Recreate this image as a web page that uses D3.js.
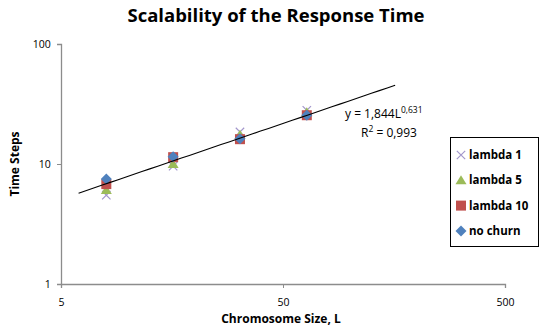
<!DOCTYPE html>
<html><head><meta charset="utf-8">
<script src="https://cdn.jsdelivr.net/npm/d3@7"></script>
<style>body{margin:0;background:#fff}svg{display:block}text{font-family:"Open Sans","Liberation Sans",sans-serif}</style>
</head><body><svg id="c" width="540" height="329"></svg>
<script>
const sizes = [8, 16, 32, 64];
const lambda1 = [5.5, 9.6, 18.5, 28];
const lambda5 = [6.07, 10.0, 17.5, 27];
const lambda10 = [6.8, 11.4, 16.1, 25.5];
const noChurn = [7.5, 11.5, 16.2, 25.5];
const seriesNames = ["lambda 1", "lambda 5", "lambda 10", "no churn"];
const xTicks = [5, 50, 500];
const yTicks = [1, 10, 100];
const trendA = 1.844, trendB = 0.631, trendRange = [6, 160];

const svg = d3.select("#c");
const x = d3.scaleLog().domain([5, 500]).range([61, 505]);
const y = d3.scaleLog().domain([1, 100]).range([284, 44]);
const axisCol = "#8c8c8c";

svg.append("text").attr("x", 276).attr("y", 22).attr("text-anchor", "middle")
  .attr("font-size", 18.5).attr("font-weight", "bold").attr("fill", "#000").text("Scalability of the Response Time");

const xa = svg.append("g").attr("transform", "translate(0,284)")
  .call(d3.axisBottom(x).tickValues(xTicks).tickFormat(d3.format("d")).tickSize(4));
const ya = svg.append("g").attr("transform", "translate(61,0)")
  .call(d3.axisLeft(y).tickValues(yTicks).tickFormat(d3.format("d")).tickSize(4));
[xa, ya].forEach(g => {
  g.select(".domain").attr("stroke", axisCol).attr("stroke-width", 1.3);
  g.selectAll(".tick line").attr("stroke", axisCol);
  g.selectAll(".tick text").attr("font-size", 10.5).attr("fill", "#000")
   .attr("font-family", "'Liberation Sans', sans-serif");
});
xa.selectAll(".tick text").attr("dy", "1.45em");
ya.selectAll(".tick text").attr("dx", "-0.3em");

svg.append("text").attr("x", 281).attr("y", 323).attr("text-anchor", "middle")
  .attr("font-size", 12).attr("font-weight", "bold").text("Chromosome Size, L");
svg.append("text").attr("transform", "translate(19,164) rotate(-90)").attr("text-anchor", "middle")
  .attr("font-size", 12).attr("font-weight", "bold").text("Time Steps");

const colors = ["#a397cc", "#9bbb59", "#c0504d", "#4f81bd"];
function marker(g, i, cx, cy) {
  if (i === 0) {
    const s = 4.2;
    g.append("path").attr("d", `M${cx-s},${cy-s}L${cx+s},${cy+s}M${cx-s},${cy+s}L${cx+s},${cy-s}`)
      .attr("stroke", colors[0]).attr("stroke-width", 1.2).attr("fill", "none");
  } else if (i === 1) {
    g.append("path").attr("d", `M${cx},${cy-5}L${cx+5.5},${cy+4}L${cx-5.5},${cy+4}Z`).attr("fill", colors[1]);
  } else if (i === 2) {
    g.append("rect").attr("x", cx-5).attr("y", cy-5).attr("width", 10).attr("height", 10).attr("fill", colors[2]);
  } else {
    g.append("path").attr("d", `M${cx},${cy-5.5}L${cx+5.5},${cy}L${cx},${cy+5.5}L${cx-5.5},${cy}Z`).attr("fill", colors[3]);
  }
}
const allSeries = [lambda1, lambda5, lambda10, noChurn];
const mg = svg.append("g");
allSeries.forEach((vals, i) => vals.forEach((v, j) => marker(mg, i, x(sizes[j]), y(v))));

const tPts = d3.range(0, 41).map(k => {
  const L = trendRange[0] * Math.pow(trendRange[1] / trendRange[0], k / 40);
  return [L, trendA * Math.pow(L, trendB)];
});
svg.append("path").datum(tPts)
  .attr("d", d3.line().x(d => x(d[0])).y(d => y(d[1])))
  .attr("fill", "none").attr("stroke", "#000").attr("stroke-width", 1.1);

const eq = svg.append("text").attr("x", 345).attr("y", 118).attr("font-size", 12)
  .attr("font-family", "'Liberation Sans', sans-serif");
eq.append("tspan").text("y = 1,844L");
eq.append("tspan").attr("dy", -5).attr("font-size", 8.5).text("0,631");
const r2 = svg.append("text").attr("x", 361).attr("y", 137).attr("font-size", 12)
  .attr("font-family", "'Liberation Sans', sans-serif");
r2.append("tspan").text("R");
r2.append("tspan").attr("dy", -5).attr("font-size", 8.5).text("2");
r2.append("tspan").attr("dy", 5).text(" = 0,993");

const lg = svg.append("g");
lg.append("rect").attr("x", 450.5).attr("y", 137.5).attr("width", 88).attr("height", 109)
  .attr("fill", "#fff").attr("stroke", "#000").attr("stroke-width", 1);
seriesNames.forEach((n, i) => {
  const cy = 155 + i * 25.3;
  marker(lg, i, 461, cy);
  lg.append("text").attr("x", 469).attr("y", cy + 4).attr("font-size", 11.5).attr("font-weight", "bold").text(n);
});
</script></body></html>
